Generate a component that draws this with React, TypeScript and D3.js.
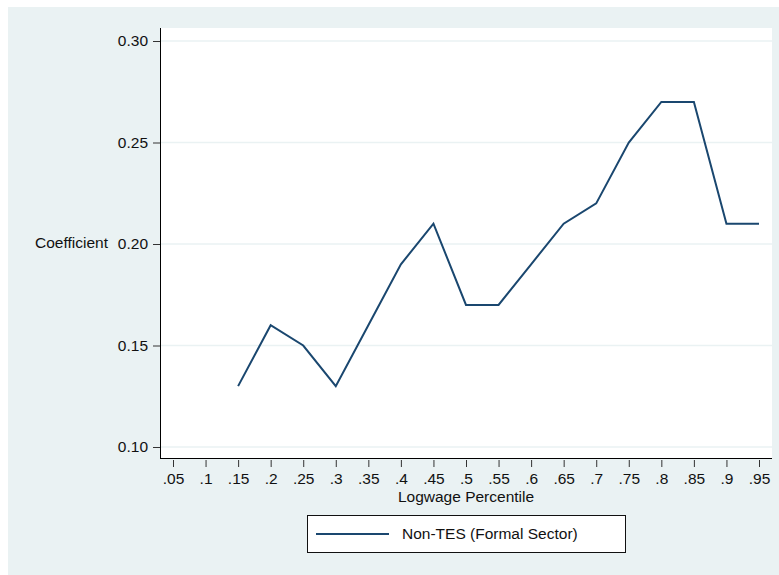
import { useEffect, useRef } from "react";
import * as d3 from "d3";

const percentiles = [0.15, 0.2, 0.25, 0.3, 0.35, 0.4, 0.45, 0.5, 0.55, 0.6, 0.65, 0.7, 0.75, 0.8, 0.85, 0.9, 0.95];
const coefficients = [0.13, 0.16, 0.15, 0.13, 0.16, 0.19, 0.21, 0.17, 0.17, 0.19, 0.21, 0.22, 0.25, 0.27, 0.27, 0.21, 0.21];
const xTicks = [0.05, 0.1, 0.15, 0.2, 0.25, 0.3, 0.35, 0.4, 0.45, 0.5, 0.55, 0.6, 0.65, 0.7, 0.75, 0.8, 0.85, 0.9, 0.95];
const yTicks = [0.1, 0.15, 0.2, 0.25, 0.3];
const seriesName = "Non-TES (Formal Sector)";

const W = 779;
const H = 575;
const bg = "#EAF2F3";
const navy = "#1A476F";
const font = "'Liberation Sans', Arial, sans-serif";
const fs = 15.5;

function App() {
  const ref = useRef<SVGSVGElement | null>(null);

  useEffect(() => {
    const svg = d3.select(ref.current);
    svg.selectAll("*").remove();

    const left = 160, right = 772, top = 28, bottom = 458;

    // 0.05 -> 173, 0.95 -> 759
    const x = d3.scaleLinear().domain([0.05, 0.95]).range([173, 759]);
    const y = d3.scaleLinear().domain([0.1, 0.3]).range([447, 41]);

    svg.append("rect").attr("x", 8).attr("y", 7).attr("width", W - 8).attr("height", H - 7).attr("fill", bg);
    svg.append("rect").attr("x", left).attr("y", top).attr("width", right - left).attr("height", bottom - top).attr("fill", "white");

    // gridlines
    svg.append("g")
      .selectAll("line")
      .data(yTicks)
      .join("line")
      .attr("x1", left)
      .attr("x2", right)
      .attr("y1", (d) => y(d))
      .attr("y2", (d) => y(d))
      .attr("stroke", bg)
      .attr("stroke-width", 1.5);

    // y axis
    const yAxis = svg.append("g").attr("transform", `translate(${left},0)`)
      .call(d3.axisLeft(y).tickValues(yTicks).tickFormat(d3.format(".2f")).tickSize(7).tickPadding(5));
    yAxis.select(".domain").attr("d", `M0.5,${top}V${bottom}`).attr("stroke", "black");
    yAxis.selectAll(".tick line").attr("stroke", "#333");
    yAxis.selectAll("text").attr("font-family", font).attr("font-size", fs).attr("fill", "#111");

    // x axis
    const xAxis = svg.append("g").attr("transform", `translate(0,${bottom})`)
      .call(d3.axisBottom(x).tickValues(xTicks).tickFormat((d) => d3.format(".2")(+d).replace(/^0/, "")).tickSize(9).tickPadding(6));
    xAxis.select(".domain").attr("d", `M${left},0.5H${right}`).attr("stroke", "black");
    xAxis.selectAll(".tick line").attr("stroke", "#333").attr("y1", 2);
    xAxis.selectAll("text").attr("font-family", font).attr("font-size", fs).attr("fill", "#111");

    // axis titles
    svg.append("text").attr("x", 35).attr("y", 248).attr("font-family", font).attr("font-size", fs).attr("fill", "#111").text("Coefficient");
    svg.append("text").attr("x", 466).attr("y", 502).attr("text-anchor", "middle").attr("font-family", font).attr("font-size", fs).attr("fill", "#111").text("Logwage Percentile");

    // line
    const pts: [number, number][] = percentiles.map((p, i) => [p, coefficients[i]]);
    const line = d3.line<[number, number]>().x((d) => x(d[0])).y((d) => y(d[1]));
    svg.append("path").attr("d", line(pts)).attr("fill", "none").attr("stroke", navy).attr("stroke-width", 2).attr("stroke-linejoin", "miter");

    // legend
    const lg = svg.append("g");
    lg.append("rect").attr("x", 307.5).attr("y", 515.5).attr("width", 318).attr("height", 37).attr("fill", "white").attr("stroke", "#111").attr("stroke-width", 1);
    lg.append("line").attr("x1", 316).attr("x2", 389).attr("y1", 534).attr("y2", 534).attr("stroke", navy).attr("stroke-width", 2);
    lg.append("text").attr("x", 402).attr("y", 539).attr("font-family", font).attr("font-size", fs).attr("fill", "#111").text(seriesName);
  }, []);

  return (
    <svg ref={ref} width={W} height={H} style={{ position: "absolute", left: 0, top: 0 }} />
  );
}

export default App;
